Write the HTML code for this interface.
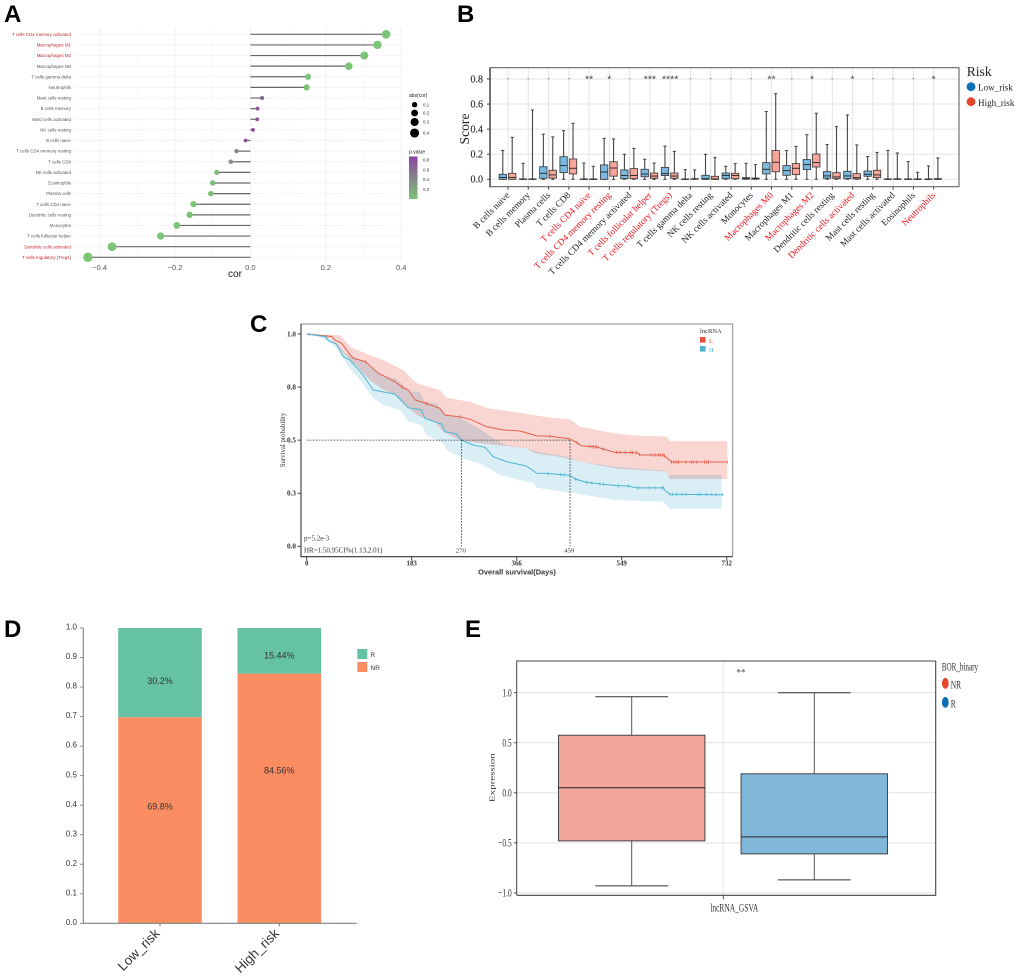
<!DOCTYPE html>
<html lang="en">
<head>
<meta charset="utf-8">
<title>Immune infiltration and survival figure</title>
<style>
html,body{margin:0;padding:0;background:#fff;width:1020px;height:978px;overflow:hidden}
svg{display:block}
.sans{font-family:"Liberation Sans",sans-serif}
.serif{font-family:"Liberation Serif",serif}
</style>
</head>
<body>
<svg id="fig" xmlns="http://www.w3.org/2000/svg" width="1020" height="978" viewBox="0 0 1020 978">
  <rect width="1020" height="978" fill="#fff"/>
  <g id="panelA">
    <text class="sans" x="4" y="22" font-size="24" font-weight="bold" fill="#000">A</text>
    <text class="sans" x="235" y="277" text-anchor="middle" font-size="10" fill="#222">cor</text>
    <text class="sans" x="409" y="97" font-size="5" fill="#222">abs(cor)</text>
    <text class="sans" x="409" y="153.5" font-size="5" fill="#222">p.value</text>
  </g>
  <g id="panelB">
    <text class="sans" x="457" y="22" font-size="24" font-weight="bold" fill="#000">B</text>
    <text class="serif" transform="translate(469,129) rotate(-90)" text-anchor="middle" font-size="13.6" fill="#222">Score</text>
    <text class="serif" x="966.7" y="76" font-size="13.6" fill="#222">Risk</text>
    <circle cx="971" cy="86.7" r="4.4" fill="#0a6fb5"/>
    <text class="serif" x="978" y="90.5" font-size="9.1" fill="#222">Low_risk</text>
    <circle cx="971" cy="101.7" r="4.4" fill="#e8452c"/>
    <text class="serif" x="978" y="106" font-size="9.1" fill="#222">High_risk</text>
  </g>
  <g id="panelC">
    <text class="sans" x="250" y="332" font-size="24" font-weight="bold" fill="#000">C</text>
    <text class="serif" transform="translate(285,440) rotate(-90)" text-anchor="middle" font-size="6.8" fill="#333">Survival probability</text>
    <text class="sans" x="517" y="574.5" text-anchor="middle" font-size="7.4" font-weight="bold" fill="#333">Overall survival(Days)</text>
    <text class="serif" x="304" y="540.7" font-size="7" fill="#333">p=5.2e-3</text>
    <text class="serif" x="304" y="552.3" font-size="7" fill="#333">HR=1.50,95CI%(1.13,2.01)</text>
    <text class="serif" x="700" y="333" font-size="6.5" fill="#333">lncRNA</text>
    <rect x="700" y="337" width="5.6" height="5.6" fill="#e2503c"/>
    <text class="serif" x="709" y="343" font-size="6.5" fill="#e2503c">L</text>
    <rect x="700" y="346" width="5.6" height="5.6" fill="#4db5d0"/>
    <text class="serif" x="709" y="352" font-size="6.5" fill="#4db5d0">H</text>
  </g>
  <g id="panelD">
    <text class="sans" x="4" y="637" font-size="24" font-weight="bold" fill="#000">D</text>
    <rect x="357.3" y="649" width="10" height="10" fill="#66c2a5"/>
    <text class="sans" x="370.5" y="657" font-size="6.5" fill="#333">R</text>
    <rect x="357.3" y="662" width="10" height="10" fill="#fc8d62"/>
    <text class="sans" x="370.5" y="670" font-size="6.5" fill="#333">NR</text>
  </g>
  <g id="panelE">
    <text class="sans" x="465" y="637" font-size="24" font-weight="bold" fill="#000">E</text>
    <text class="serif" transform="translate(494.5,777.7) rotate(-90) scale(1,.65)" text-anchor="middle" font-size="11" fill="#333">Expression</text>
    <text class="serif" transform="translate(734.3,911.7) scale(.65,1)" text-anchor="middle" font-size="11.5" fill="#333">lncRNA_GSVA</text>
    <text class="serif" transform="translate(941.7,670.7) scale(.62,1)" font-size="11.5" fill="#333">BOR_binary</text>
    <ellipse cx="945.3" cy="683.3" rx="3.4" ry="5.4" fill="#e8452c"/>
    <text class="serif" transform="translate(950.7,688.7) scale(.65,1)" font-size="11.5" fill="#333">NR</text>
    <ellipse cx="945.3" cy="702.3" rx="3.4" ry="5.4" fill="#0a6fb5"/>
    <text class="serif" transform="translate(950.7,707.7) scale(.65,1)" font-size="11.5" fill="#333">R</text>
    <text class="serif" x="741" y="675.5" text-anchor="middle" font-size="9" fill="#444">**</text>
  </g>
</svg>
<script>
/* ---------- Panel A data ---------- */
const aCategories = ["T cells CD4 memory activated","Macrophages M1","Macrophages M2","Macrophages M0","T cells gamma delta","Neutrophils","Mast cells resting","B cells memory","Mast cells activated","NK cells resting","B cells naive","T cells CD4 memory resting","T cells CD8","NK cells activated","Eosinophils","Plasma cells","T cells CD4 naive","Dendritic cells resting","Monocytes","T cells follicular helper","Dendritic cells activated","T cells regulatory (Tregs)"];
const aCor = [0.36,0.337,0.302,0.261,0.153,0.149,0.031,0.019,0.018,0.007,-0.013,-0.037,-0.052,-0.089,-0.1,-0.105,-0.151,-0.161,-0.195,-0.238,-0.367,-0.431];
const aPValue = [0.001,0.001,0.001,0.003,0.02,0.02,0.6,0.72,0.72,0.85,0.8,0.42,0.3,0.06,0.05,0.05,0.01,0.01,0.005,0.002,0.001,0.001];
const aRedCategories = ["T cells CD4 memory activated","Macrophages M1","Macrophages M2","Dendritic cells activated","T cells regulatory (Tregs)"];
const aXTicks = [-0.4,-0.2,0,0.2,0.4];
const aXMinorTicks = [-0.3,-0.1,0.1,0.3];
const aSizeLegend = [0.1,0.2,0.3,0.4];
const aColorTicks = [0.8,0.6,0.4,0.2];

/* ---------- Panel B data ---------- */
const bCategories = ["B cells naive","B cells memory","Plasma cells","T cells CD8","T cells CD4 naive","T cells CD4 memory resting","T cells CD4 memory activated","T cells follicular helper","T cells regulatory (Tregs)","T cells gamma delta","NK cells resting","NK cells activated","Monocytes","Macrophages M0","Macrophages M1","Macrophages M2","Dendritic cells resting","Dendritic cells activated","Mast cells resting","Mast cells activated","Eosinophils","Neutrophils"];
const bRedCategories = ["T cells CD4 naive","T cells CD4 memory resting","T cells follicular helper","T cells regulatory (Tregs)","Macrophages M0","Macrophages M2","Dendritic cells activated","Neutrophils"];
const bSignificance = ["-","-","-","-","**","*","-","***","****","-","-","-","-","**","-","*","-","*","-","-","-","*"];
/* each entry: lower whisker, q1, median, q3, upper whisker */
const bLowRisk = [[0,0,.015,.04,.23],[0,0,.001,.003,.128],[0,.008,.048,.1,.36],[0,.053,.11,.18,.388],[0,0,.001,.003,.13],[0,0,.058,.115,.327],[0,.005,.03,.075,.2],[0,.02,.042,.08,.16],[0,.03,.045,.095,.265],[0,0,.001,.003,.077],[0,0,.005,.032,.2],[0,.005,.03,.05,.104],[0,.002,.005,.013,.128],[0,.043,.08,.133,.54],[0,.032,.069,.109,.229],[0,.077,.117,.157,.356],[0,.008,.027,.061,.277],[0,.005,.027,.064,.513],[0,.024,.04,.066,.181],[0,0,.001,.003,.231],[0,0,.001,.003,.141],[0,0,.001,.003,.106]];
const bHighRisk = [[0,0,.015,.048,.335],[0,0,.001,.003,.553],[0,.01,.035,.072,.338],[0,.043,.088,.162,.447],[0,0,.001,.003,.104],[0,.025,.09,.14,.322],[0,.005,.03,.085,.247],[0,.008,.026,.05,.13],[0,.008,.026,.05,.223],[0,.001,.002,.005,.075],[0,0,.003,.024,.175],[0,.005,.03,.048,.125],[0,.002,.004,.01,.117],[0,.06,.136,.229,.683],[0,.037,.088,.125,.263],[0,.098,.133,.202,.527],[0,.005,.019,.053,.42],[0,.003,.013,.045,.274],[0,.013,.035,.072,.215],[0,0,.002,.004,.21],[0,0,.001,.003,.056],[0,0,.002,.005,.17]];
const bYTicks = [0,0.2,0.4,0.6,0.8];

/* ---------- Panel C data ---------- */
const cLDays = [0,23,44,49,61,70,81,102,125,154,165,177,189,212,232,241,267,285,314,343,372,401,424,458,471,479,505,517,537,575,581,622,636,733];
const cLSurv = [1,.994,.988,.972,.956,.922,.886,.87,.815,.775,.752,.736,.689,.67,.65,.618,.61,.598,.563,.548,.543,.52,.518,.507,.488,.473,.468,.458,.443,.441,.43,.43,.397,.397];
const cLUpperDays = [0,58,76,110,134,168,192,232,244,285,316,378,424,459,476,537,575,627,633,733];
const cLUpper = [1,.995,.94,.9,.8775,.83,.768,.736,.7,.681,.65,.626,.606,.598,.564,.532,.521,.517,.495,.495];
const cLLowerDays = [0,41,64,87,110,134,154,168,177,197,226,238,267,302,348,383,398,441,476,537,627,633,733];
const cLLower = [1,.98,.909,.85,.783,.736,.713,.673,.65,.611,.579,.54,.5,.485,.472,.461,.438,.422,.399,.367,.352,.317,.317];
const cHDays = [0,32,38,52,64,75,96,116,154,177,200,206,235,241,261,270,290,311,325,348,383,401,421,459,468,488,517,540,561,575,622,625,633,725];
const cHSurv = [1,.988,.969,.953,.893,.878,.815,.736,.717,.653,.642,.603,.576,.54,.529,.5,.477,.466,.422,.399,.378,.344,.343,.334,.317,.301,.292,.286,.284,.275,.275,.261,.245,.243];
const cHUpperDays = [0,35,52,67,93,102,128,154,165,177,197,206,226,241,261,285,305,325,348,383,401,453,476,537,627,630,723];
const cHUpper = [1,.988,.956,.909,.88,.862,.807,.791,.768,.728,.728,.681,.673,.618,.61,.579,.548,.508,.477,.461,.446,.422,.399,.375,.356,.336,.336];
const cHLowerDays = [0,29,52,75,93,116,134,163,177,200,209,238,244,273,308,337,395,401,459,537,622,633,723];
const cHLower = [1,.98,.933,.838,.783,.697,.665,.642,.587,.571,.524,.485,.454,.414,.383,.336,.297,.276,.253,.218,.21,.176,.176];
const cLCensor = [103,166,209,267,424,471,493,497,500,504,505,517,540,546,555,565,568,575,580,601,607,613,616,620,623,636,640,645,648,661,670,674,680,693,697,700,733];
const cHCensor = [5,421,443,449,459,468,473,488,497,511,517,543,561,577,598,607,619,622,633,638,645,654,661,682,686,697,706,713,725];
const cMedianDays = [270,459];
const cXTicks = [0,183,366,549,732];
const cYTicks = [0,0.25,0.5,0.75,1];
const cYTickLabels = ["0.0","0.3","0.5","0.8","1.0"];

/* ---------- Panel D data ---------- */
const dCategories = ["Low_risk","High_risk"];
const dNR = [69.8,84.56];
const dR = [30.2,15.44];
const dNRLabelShare = [0.567,0.613];
const dRLabelShare = [0.41,0.40];
const dYTicks = [0,0.1,0.2,0.3,0.4,0.5,0.6,0.7,0.8,0.9,1];

/* ---------- Panel E data ---------- */
const eGroups = ["NR","R"];
const eWhiskerLow = [-0.93,-0.87];
const eQ1 = [-0.48,-0.61];
const eMedian = [0.05,-0.44];
const eQ3 = [0.575,0.19];
const eWhiskerHigh = [0.96,1.0];
const eYTicks = [-1,-0.5,0,0.5,1];

/* ---------- helpers ---------- */
const NS = "http://www.w3.org/2000/svg";
function mk(tag, attrs, parent, txt){
  const el = document.createElementNS(NS, tag);
  for (const k in attrs) el.setAttribute(k, attrs[k]);
  if (txt !== undefined) el.textContent = txt;
  parent.appendChild(el);
  return el;
}
function group(parent){ return mk("g", {}, parent); }
const SANS = '"Liberation Sans",sans-serif';
const SERIF = '"Liberation Serif",serif';

/* ---------- Panel A ---------- */
(function(){
  const p = document.getElementById("panelA");
  const ax = v => 250.4 + v * 377;
  const ay = i => 34.3 + i * 10.62;
  const mixColor = t => {
    const c = Math.min(1, t / 0.85);
    return `rgb(${Math.round(124 + 18 * c)},${Math.round(197 - 129 * c)},${Math.round(118 + 42 * c)})`;
  };
  const radius = v => Math.sqrt(3 + 44 * Math.abs(v));
  const grid = group(p);
  
  
  aXMinorTicks.forEach(v => {
    const el = mk("line", {x1:ax(v),x2:ax(v),y1:28,y2:262,stroke:"#f3f3f3","stroke-width":0.8,"stroke-dasharray":"1.5 1"}, grid);
    
    
  });
  aXTicks.forEach(v => {
    const el = mk("line", {x1:ax(v),x2:ax(v),y1:28,y2:262,stroke:"#e9e9e9","stroke-width":1,"stroke-dasharray":"1.5 1"}, grid);
    
    
    const t = mk("text", {x:ax(v),y:270,"text-anchor":"middle","font-size":7.5,"font-family":SANS,fill:"#555"}, p, v === 0 ? "0.0" : v.toFixed(1).replace("-", "\u2212"));
    
    
  });
  aCategories.forEach((c, i) => {
    const y = ay(i);
    const g = mk("line", {x1:75,x2:401,y1:y,y2:y,stroke:"#ececec","stroke-width":0.9,"stroke-dasharray":"1.5 1"}, grid);
    
    
    const red = aRedCategories.includes(c);
    const t = mk("text", {x:71,y:y+1.6,"text-anchor":"end","font-size":4.45,"font-family":SANS,fill:red?"#c0272d":"#555"}, p, c);
    
    
    const l = mk("line", {x1:ax(0),x2:ax(aCor[i]),y1:y,y2:y,stroke:"#666","stroke-width":1.2}, p);
    
    
    const d = mk("circle", {cx:ax(aCor[i]),cy:y,r:radius(aCor[i]),fill:mixColor(aPValue[i])}, p);
    
    
  });
  const sizeY = [104.7,113,122,133];
  aSizeLegend.forEach((v, i) => {
    const d = mk("circle", {cx:414.6,cy:sizeY[i],r:radius(v),fill:"#000"}, p);
    
    
    const t = mk("text", {x:423,y:sizeY[i]+1.6,"font-size":4.5,"font-family":SANS,fill:"#333"}, p, v.toFixed(1));
    
    
  });
  const defs = mk("defs", {}, p);
  const lg = mk("linearGradient", {id:"pGrad",x1:0,y1:0,x2:0,y2:1}, defs);
  mk("stop", {offset:"0%","stop-color":"#8e44a0"}, lg);
  mk("stop", {offset:"100%","stop-color":"#7cc576"}, lg);
  const bar = mk("rect", {x:409,y:156.5,width:8.5,height:42.5,fill:"url(#pGrad)"}, p);
  
  
  aColorTicks.forEach(v => {
    const y = 199 - v * 48.5 - 0.1;
    const t = mk("text", {x:423,y:y+1.6,"font-size":4.5,"font-family":SANS,fill:"#333"}, p, v.toFixed(1));
    
    
  });
})();

/* ---------- Panel B ---------- */
(function(){
  const p = document.getElementById("panelB");
  const bx = i => 508 + i * 20.27;
  const by = v => 179.3 - v * 125.4;
  const L = 490, R = 959, T = 67.7, B = 186.7;
  bYTicks.forEach(v => {
    const g = mk("line", {x1:L,x2:R,y1:by(v),y2:by(v),stroke:"#e4e4e4","stroke-width":1}, p);
    
    
    const tk = mk("line", {x1:L-3,x2:L,y1:by(v),y2:by(v),stroke:"#444","stroke-width":1}, p);
    
    
    const t = mk("text", {x:483,y:by(v)+3.4,"text-anchor":"end","font-size":10,"font-family":SERIF,fill:"#333",stroke:"#333","stroke-width":0.2}, p, v.toFixed(1));
    
    
  });
  bCategories.forEach((c, i) => {
    const x = bx(i);
    const g = mk("line", {x1:x,x2:x,y1:T,y2:B,stroke:"#e4e4e4","stroke-width":1}, p);
    
    
    const tk = mk("line", {x1:x,x2:x,y1:B,y2:B+3,stroke:"#444","stroke-width":1}, p);
    
    
    const red = bRedCategories.includes(c);
    const t = mk("text", {transform:`translate(${x+2.2},${B+9}) rotate(-45)`,"text-anchor":"end","font-size":9.2,"font-family":SERIF,fill:red?"#e8141c":"#222"}, p, c);
    
    
    const s = bSignificance[i];
    const st = mk("text", {x:x,y:s === "-" ? 81 : 82.5,"text-anchor":"middle","font-size":s === "-" ? 7 : 10.5,"font-family":SANS,fill:"#444"}, p, s);
    
    
    [[bLowRisk[i],-4.7,"#7ab8e0"],[bHighRisk[i],4.7,"#f7a59a"]].forEach(([st5,off,fill]) => {
      const cx = x - 0.5 + off;
      const g2 = group(p);
      
      
      mk("line", {x1:cx,x2:cx,y1:by(st5[4]),y2:by(st5[0]),stroke:"#444","stroke-width":1.1}, g2);
      mk("line", {x1:cx-1.6,x2:cx+1.6,y1:by(st5[4]),y2:by(st5[4]),stroke:"#333","stroke-width":0.9}, g2);
      mk("line", {x1:cx-1.6,x2:cx+1.6,y1:by(st5[0]),y2:by(st5[0]),stroke:"#333","stroke-width":0.9}, g2);
      mk("rect", {x:cx-3.7,y:by(st5[3]),width:7.4,height:Math.max(0.4,by(st5[1])-by(st5[3])),fill:fill,stroke:"#333","stroke-width":0.8}, g2);
      mk("line", {x1:cx-3.7,x2:cx+3.7,y1:by(st5[2]),y2:by(st5[2]),stroke:"#222","stroke-width":0.9}, g2);
    });
  });
  const fr = mk("rect", {x:L,y:T,width:R-L,height:B-T,fill:"none",stroke:"#555","stroke-width":1}, p);
  
  
  const ya = mk("line", {x1:L,x2:L,y1:T,y2:B+0.5,stroke:"#444","stroke-width":1.5}, p);
  
  
})();

/* ---------- Panel C ---------- */
(function(){
  const p = document.getElementById("panelC");
  const cx = d => 306.7 + d * 0.5738;
  const cy = s => 546.3 - s * 212.3;
  const L = 301, R = 732.7, T = 324, B = 556.7;
  const lookup = (days, vals, d) => {
    for (let i = 1; i < days.length; i++) {
      if (d <= days[i]) {
        const f = (d - days[i-1]) / (days[i] - days[i-1]);
        return vals[i-1] + f * (vals[i] - vals[i-1]);
      }
    }
    return vals[vals.length-1];
  };
  const toPts = (days, vals) => days.map((d, i) => cx(d).toFixed(1) + "," + cy(vals[i]).toFixed(1));
  const redBand = mk("polygon", {points:toPts(cLUpperDays,cLUpper).concat(toPts(cLLowerDays,cLLower).reverse()).join(" "),fill:"#fad6d3",style:"mix-blend-mode:multiply"}, p);
  
  
  const blueBand = mk("polygon", {points:toPts(cHUpperDays,cHUpper).concat(toPts(cHLowerDays,cHLower).reverse()).join(" "),fill:"#daeef6",style:"mix-blend-mode:multiply"}, p);
  
  
  const lineL = mk("polyline", {points:toPts(cLDays,cLSurv).join(" "),fill:"none",stroke:"#e2604c","stroke-width":1}, p);
  
  
  const lineH = mk("polyline", {points:toPts(cHDays,cHSurv).join(" "),fill:"none",stroke:"#4db5d0","stroke-width":1}, p);
  
  
  cLCensor.forEach(d => {
    const y = cy(lookup(cLDays,cLSurv,d));
    const m = mk("line", {x1:cx(d),x2:cx(d),y1:y-1.8,y2:y+1.8,stroke:"#e2604c","stroke-width":0.7}, p);
    
    
  });
  cHCensor.forEach(d => {
    const y = cy(lookup(cHDays,cHSurv,d));
    const m = mk("line", {x1:cx(d),x2:cx(d),y1:y-1.8,y2:y+1.8,stroke:"#4db5d0","stroke-width":0.7}, p);
    
    
  });
  const hd = mk("line", {x1:cx(0),x2:cx(Math.max(...cMedianDays)),y1:cy(0.5),y2:cy(0.5),stroke:"#333","stroke-width":0.8,"stroke-dasharray":"1.6 1.4"}, p);
  
  
  cMedianDays.forEach(d => {
    const v = mk("line", {x1:cx(d),x2:cx(d),y1:cy(0.5),y2:cy(0),stroke:"#333","stroke-width":0.8,"stroke-dasharray":"1.6 1.4"}, p);
    
    
    const t = mk("text", {x:cx(d)-0.8,y:552.5,"text-anchor":"middle","font-size":6.7,"font-family":SERIF,fill:"#333"}, p, String(d));
    
    
  });
  const top = mk("path", {d:`M${L} ${T}H${R}V${B}`,fill:"none",stroke:"#888","stroke-width":1}, p);
  
  
  const axes = mk("path", {d:`M${L} ${T}V${B}H${R}`,fill:"none",stroke:"#333","stroke-width":1.1}, p);
  
  
  cYTicks.forEach((v, i) => {
    const tk = mk("line", {x1:L-3.5,x2:L,y1:cy(v),y2:cy(v),stroke:"#333","stroke-width":0.9}, p);
    
    
    const t = mk("text", {x:296,y:cy(v)+2.4,"text-anchor":"end","font-size":7.2,"font-family":SERIF,"font-weight":"bold",fill:"#333"}, p, cYTickLabels[i]);
    
    
  });
  cXTicks.forEach(d => {
    const tk = mk("line", {x1:cx(d),x2:cx(d),y1:B,y2:B+3.5,stroke:"#333","stroke-width":0.9}, p);
    
    
    const t = mk("text", {x:cx(d),y:565.7,"text-anchor":"middle","font-size":6.9,"font-family":SERIF,"font-weight":"bold",fill:"#333"}, p, String(d));
    
    
  });
})();

/* ---------- Panel D ---------- */
(function(){
  const p = document.getElementById("panelD");
  const dy = v => 923.3 - v * 295.3;
  const dx = i => 160 + i * 119.3;
  dCategories.forEach((c, i) => {
    const x = dx(i);
    const nr = dNR[i] / 100, r = dR[i] / 100;
    const b1 = mk("rect", {x:x-41.8,y:dy(nr),width:83.6,height:dy(0)-dy(nr),fill:"#fc8d62"}, p);
    
    
    const b2 = mk("rect", {x:x-41.8,y:dy(nr+r),width:83.6,height:dy(nr)-dy(nr+r),fill:"#66c2a5"}, p);
    
    
    const t1 = mk("text", {x:x,y:dy(nr*dNRLabelShare[i])+3.2,"text-anchor":"middle","font-size":9,"font-family":SANS,fill:"#333"}, p, dNR[i] + "%");
    
    
    const t2 = mk("text", {x:x,y:dy(nr+r*dRLabelShare[i])+3.2,"text-anchor":"middle","font-size":9,"font-family":SANS,fill:"#333"}, p, dR[i] + "%");
    
    
    const tk = mk("line", {x1:x,x2:x,y1:dy(0),y2:dy(0)+3,stroke:"#777","stroke-width":1}, p);
    
    
    const lbl = mk("text", {transform:`translate(${x+0.5},${dy(0)+11}) rotate(-45)`,"text-anchor":"end","font-size":13.4,"font-family":SANS,fill:"#333"}, p, c);
    
    
  });
  const a = mk("path", {d:`M83.3 ${dy(1)}V${dy(0)}H356.7`,fill:"none",stroke:"#808080","stroke-width":1.1}, p);
  
  
  dYTicks.forEach(v => {
    const tk = mk("line", {x1:80,x2:83.3,y1:dy(v),y2:dy(v),stroke:"#808080","stroke-width":0.9}, p);
    
    
    const t = mk("text", {x:77,y:dy(v)+1.6,"text-anchor":"end","font-size":8,"font-family":SANS,fill:"#333"}, p, v.toFixed(1));
    
    
  });
})();

/* ---------- Panel E ---------- */
(function(){
  const p = document.getElementById("panelE");
  const ey = v => 792.8 - v * 100.1;
  const ex = i => 631.7 + i * 182.6;
  const L = 516.7, R = 935.7, T = 661, B = 895.3;
  const v = mk("line", {x1:723.3,x2:723.3,y1:T,y2:B,stroke:"#e8e8e8","stroke-width":1}, p);
  
  
  eYTicks.forEach(t => {
    const g = mk("line", {x1:L,x2:R,y1:ey(t),y2:ey(t),stroke:"#e2e2e2","stroke-width":1}, p);
    
    
    const tk = mk("line", {x1:L-3,x2:L,y1:ey(t),y2:ey(t),stroke:"#444","stroke-width":0.9}, p);
    
    
    const lb = mk("text", {transform:`translate(511.7,${ey(t)+3.6}) scale(.65,1)`,"text-anchor":"end","font-size":11.5,"font-family":SERIF,fill:"#333"}, p, t.toFixed(1).replace("-", "\u2212"));
    
    
  });
  eGroups.forEach((name, i) => {
    const x = ex(i);
    const w = mk("line", {x1:x,x2:x,y1:ey(eWhiskerHigh[i]),y2:ey(eWhiskerLow[i]),stroke:"#555","stroke-width":1}, p);
    
    
    const c1 = mk("line", {x1:x-36.4,x2:x+36.4,y1:ey(eWhiskerHigh[i]),y2:ey(eWhiskerHigh[i]),stroke:"#333","stroke-width":1}, p);
    
    
    const c2 = mk("line", {x1:x-36.4,x2:x+36.4,y1:ey(eWhiskerLow[i]),y2:ey(eWhiskerLow[i]),stroke:"#333","stroke-width":1}, p);
    
    
    const b = mk("rect", {x:x-73.2,y:ey(eQ3[i]),width:146.4,height:ey(eQ1[i])-ey(eQ3[i]),fill:name === "NR" ? "#f3a79c" : "#82b7dc",stroke:"#444","stroke-width":1}, p);
    
    
    const m = mk("line", {x1:x-73.2,x2:x+73.2,y1:ey(eMedian[i]),y2:ey(eMedian[i]),stroke:"#222","stroke-width":1}, p);
    
    
  });
  const fr = mk("path", {d:`M${L} ${B}V${T}H${R}`,fill:"none",stroke:"#444","stroke-width":1}, p);
  
  
  const fr2 = mk("path", {d:`M${L} ${B}H${R}V${T}`,fill:"none",stroke:"#444","stroke-width":1.1}, p);
  
  
  const tk = mk("line", {x1:723.3,x2:723.3,y1:B,y2:B+4,stroke:"#444","stroke-width":0.9}, p);
  
  
})();
</script>
</body>
</html>
